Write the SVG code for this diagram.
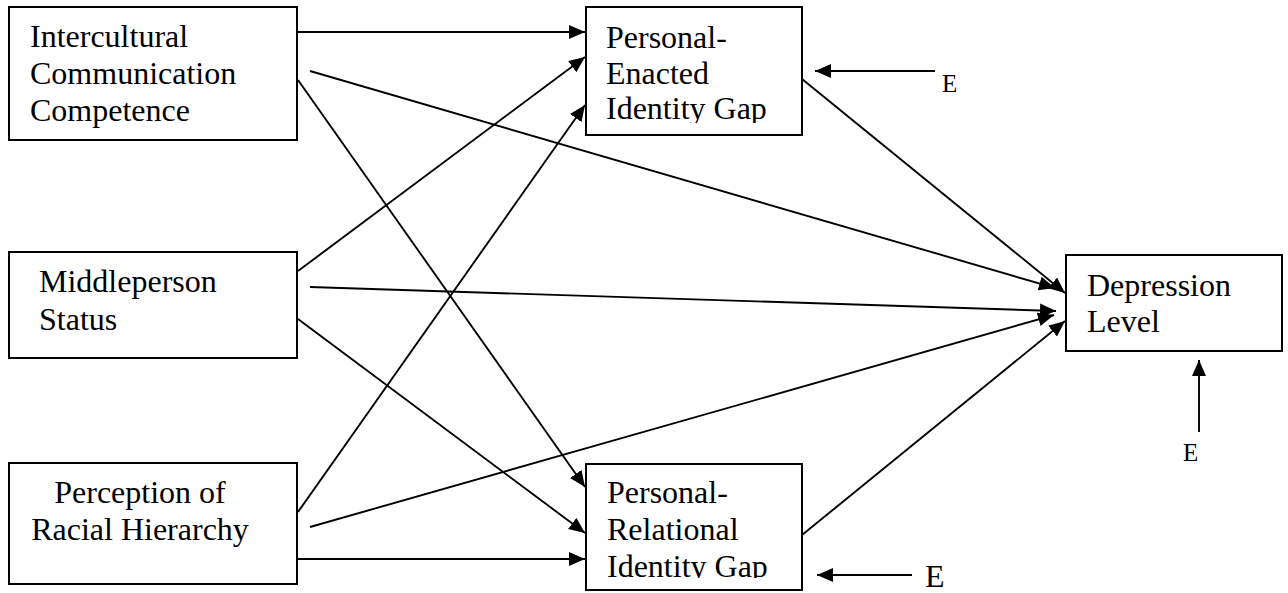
<svg xmlns="http://www.w3.org/2000/svg" width="1288" height="593" viewBox="0 0 1288 593">
  <style>
    .box { fill: #ffffff; stroke: #000000; stroke-width: 2; }
    .lbl { font-family: "Liberation Serif", "Times New Roman", Times, serif; font-size: 32px; fill: #000000; }
    .err { font-family: "Liberation Serif", "Times New Roman", Times, serif; font-size: 25px; fill: #000000; }
    .edge { stroke: #000000; stroke-width: 1.9; fill: none; marker-end: url(#arrow); }
  </style>
  <defs>
    <marker id="arrow" markerUnits="userSpaceOnUse" markerWidth="17" markerHeight="15" refX="16" refY="7" orient="auto">
      <path d="M0,0 L16,7 L0,14 z" fill="#000000"/>
    </marker>
    <clipPath id="clipEnacted"><rect x="587" y="8" width="214" height="115"/></clipPath>
    <clipPath id="clipRelational"><rect x="587" y="465" width="214" height="113"/></clipPath>
  </defs>
  <rect width="1288" height="593" fill="#ffffff"/>

  <g id="connectors">
    <!-- Intercultural Communication Competence -->
    <line class="edge" x1="298" y1="32" x2="585" y2="32"/>
    <line class="edge" x1="310" y1="71" x2="1055" y2="288"/>
    <line class="edge" x1="298" y1="80" x2="585" y2="487"/>
    <!-- Middleperson Status -->
    <line class="edge" x1="298" y1="271" x2="585" y2="57"/>
    <line class="edge" x1="310" y1="287" x2="1056" y2="311"/>
    <line class="edge" x1="298" y1="319" x2="585" y2="533"/>
    <!-- Perception of Racial Hierarchy -->
    <line class="edge" x1="298" y1="512" x2="585" y2="105"/>
    <line class="edge" x1="310" y1="527" x2="1054" y2="315"/>
    <line class="edge" x1="298" y1="559" x2="585" y2="559"/>
    <!-- identity gaps to depression -->
    <line class="edge" x1="802" y1="79" x2="1065" y2="293"/>
    <line class="edge" x1="802" y1="535" x2="1065" y2="321"/>
    <!-- error terms -->
    <line class="edge" x1="935" y1="71" x2="815" y2="71"/>
    <line class="edge" x1="912" y1="575" x2="817" y2="575"/>
    <line class="edge" x1="1199" y1="432" x2="1199" y2="360"/>
  </g>

  <g id="node-icc">
    <rect class="box" x="9" y="7" width="288" height="133"/>
    <text class="lbl" x="30" y="47">Intercultural</text>
    <text class="lbl" x="30" y="84">Communication</text>
    <text class="lbl" x="30" y="121">Competence</text>
  </g>

  <g id="node-middleperson">
    <rect class="box" x="9" y="252" width="288" height="106"/>
    <text class="lbl" x="39" y="292">Middleperson</text>
    <text class="lbl" x="39" y="330">Status</text>
  </g>

  <g id="node-perception">
    <rect class="box" x="9" y="463" width="288" height="121"/>
    <text class="lbl" x="140" y="503" text-anchor="middle">Perception of</text>
    <text class="lbl" x="140" y="540" text-anchor="middle">Racial Hierarchy</text>
  </g>

  <g id="node-enacted">
    <rect class="box" x="586" y="7" width="216" height="128"/>
    <g clip-path="url(#clipEnacted)">
      <text class="lbl" x="606" y="48">Personal-</text>
      <text class="lbl" x="606" y="84">Enacted</text>
      <text class="lbl" x="606" y="119">Identity Gap</text>
    </g>
  </g>

  <g id="node-relational">
    <rect class="box" x="586" y="464" width="216" height="126"/>
    <g clip-path="url(#clipRelational)">
      <text class="lbl" x="607" y="503">Personal-</text>
      <text class="lbl" x="607" y="540">Relational</text>
      <text class="lbl" x="607" y="577">Identity Gap</text>
    </g>
  </g>

  <g id="node-depression">
    <rect class="box" x="1066" y="255" width="216" height="96"/>
    <text class="lbl" x="1087" y="296">Depression</text>
    <text class="lbl" x="1087" y="332">Level</text>
  </g>

  <g id="error-terms">
    <text class="err" x="942" y="92">E</text>
    <text class="lbl" x="925" y="587">E</text>
    <text class="err" x="1183" y="461">E</text>
  </g>
</svg>
